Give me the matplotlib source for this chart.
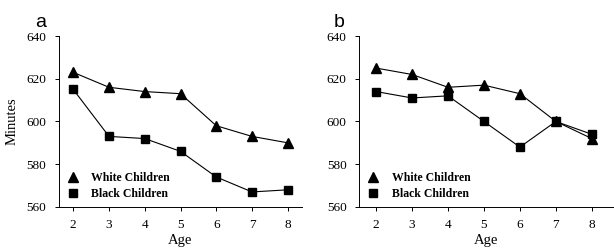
import matplotlib
matplotlib.use("Agg")
import matplotlib.pyplot as plt

ages = [2, 3, 4, 5, 6, 7, 8]

# panel a
white_a = [623, 616, 614, 613, 598, 593, 590]
black_a = [615, 593, 592, 586, 574, 567, 568]
# panel b
white_b = [625, 622, 616, 617, 613, 600, 592]
black_b = [614, 611, 612, 600, 588, 600, 594]

yticks = [560, 580, 600, 620, 640]
serif = ["Liberation Serif", "DejaVu Serif"]

fig = plt.figure(figsize=(6.14, 2.52), dpi=100)
ax_a = fig.add_axes([0.096, 0.179, 0.396, 0.678])
ax_b = fig.add_axes([0.585, 0.179, 0.414, 0.678])


def panel(ax, white, black, label, xlim, ylabel):
    ax.plot(ages, white, color="black", lw=0.8, marker="^", markersize=6.5,
            label="White Children", clip_on=False)
    ax.plot(ages, black, color="black", lw=0.8, marker="s", markersize=6,
            label="Black Children", clip_on=False)
    ax.set_xlim(*xlim)
    ax.set_ylim(560, 640)
    ax.set_xticks(ages)
    ax.set_yticks(yticks)
    for s in ["top", "right"]:
        ax.spines[s].set_visible(False)
    for s in ["left", "bottom"]:
        ax.spines[s].set_linewidth(0.7)
    ax.tick_params(direction="out", length=3, width=0.7, labelsize=9.5, pad=6)
    for t in ax.get_xticklabels() + ax.get_yticklabels():
        t.set_fontfamily(serif)
    ax.set_xlabel("Age", fontsize=10.5, family=serif, labelpad=2)
    if ylabel:
        ax.set_ylabel("Minutes", fontsize=10.5, family=serif, labelpad=6)
    leg = ax.legend(loc="lower left", frameon=False, handlelength=1.2,
                    handletextpad=1.0, borderaxespad=0.15, labelspacing=0.35,
                    prop={"family": serif, "weight": "bold", "size": 8.5})
    for h in leg.legend_handles:
        h.set_linestyle("none")
    ax.text(-0.1, 1.03, label, transform=ax.transAxes, fontsize=14,
            family=["Liberation Sans", "DejaVu Sans"], ha="left", va="bottom")


panel(ax_a, white_a, black_a, "a", (1.6, 8.4), True)
panel(ax_b, white_b, black_b, "b", (1.53, 8.6), False)

fig.savefig("out.png", dpi=100)
